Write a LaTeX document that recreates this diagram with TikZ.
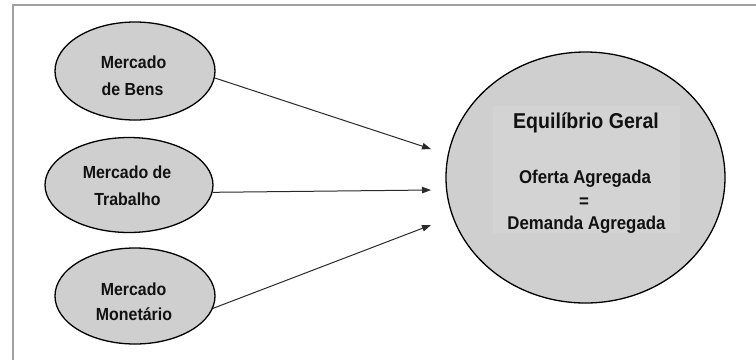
\documentclass[tikz,border=0pt]{standalone}
\usepackage{fontspec}
\setmainfont{Liberation Sans}[FakeStretch=0.91]
\usetikzlibrary{arrows.meta,shapes.geometric}
\definecolor{fillg}{HTML}{CFCFCF}
\definecolor{innerg}{HTML}{D3D3D3}
\definecolor{frameg}{HTML}{A0A0A0}
\definecolor{txt}{HTML}{111111}
\definecolor{linec}{HTML}{2A2A2A}
\begin{document}
\begin{tikzpicture}[x=1pt,y=-1pt,
  market/.style={ellipse,draw=black,line width=1.3pt,fill=fillg,inner sep=0pt},
  lbl/.style={anchor=base,inner sep=0pt,text=txt,font=\bfseries\fontsize{17.5}{20}\selectfont},
  biglbl/.style={anchor=base,inner sep=0pt,text=txt,font=\bfseries\fontsize{18.5}{22}\selectfont},
  flow/.style={draw=linec,line width=1pt,-{Triangle[length=9pt,width=6.5pt]}}]
\useasboundingbox (0,0) rectangle (756,360);
\fill[white] (0,0) rectangle (756,360);
\draw[frameg,line width=1.5pt] (13,360) -- (13,5) -- (756,5);
% markets
\node[market,minimum width=160pt,minimum height=98pt] (bens) at (135,71) {};
\node[market,minimum width=168pt,minimum height=95pt] (trab) at (129,185) {};
\node[market,minimum width=160pt,minimum height=96pt] (mon) at (135,296) {};
% general equilibrium
\node[ellipse,draw=black,line width=1.3pt,fill=fillg,minimum width=279pt,minimum height=251pt,inner sep=0pt] (eq) at (585.5,177.5) {};
\fill[innerg] (493,106) rectangle (680,233);
% labels
\node[lbl] (b1) at (133.5,68) {Mercado};
\node[lbl] (b2) at (132.5,95) {de Bens};
\node[lbl] (t1) at (127,178) {Mercado de};
\node[lbl] (t2) at (127.5,205) {Trabalho};
\node[lbl] (m1) at (133.5,295) {Mercado};
\node[lbl] (m2) at (134,320) {Monetário};
\node[anchor=base,inner sep=0pt,text=txt,font=\bfseries\fontsize{21.5}{24}\selectfont] (e1) at (586,128) {Equilíbrio Geral};
\node[biglbl] (e2) at (585,183) {Oferta Agregada};
\node[biglbl] (e3) at (584,207) {=};
\node[biglbl] (e4) at (586.5,229) {Demanda Agregada};
% arrows
\coordinate (a1) at (431,149);
\coordinate (a2) at (431,190);
\coordinate (a3) at (431,225);
\draw[flow] (bens.-5) -- (a1);
\draw[flow] (trab.-5) -- (a2);
\draw[flow] (mon.-9) -- (a3);
\end{tikzpicture}
\end{document}
